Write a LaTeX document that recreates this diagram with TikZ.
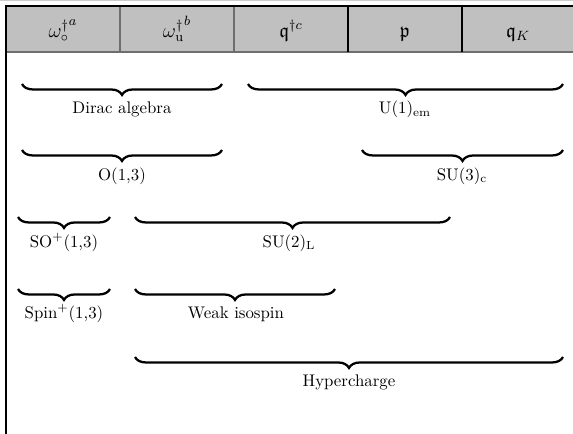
\documentclass[tikz,border=0pt]{standalone}
\usepackage{amssymb}
\usetikzlibrary{decorations.pathreplacing}
\definecolor{headfill}{RGB}{192,192,192}
\definecolor{sepgray}{RGB}{110,110,110}
\begin{document}
\begin{tikzpicture}[x=0.594pt,y=-0.594pt,
  br/.style={decorate,decoration={brace,mirror,amplitude=6.5pt},line width=1.35pt},
  lbl/.style={anchor=base,inner sep=0pt},
  hd/.style={anchor=base,inner sep=0pt,font=\large}]
\useasboundingbox (0,0) rectangle (573,434);
\fill[white] (0,0) rectangle (573,434);
% header
\fill[headfill] (6,6) rectangle (573,52);
\draw[black!20, line width=0.6pt] (0,0.8) -- (573,0.8);
\draw[sepgray, line width=0.6pt] (6,52) -- (573,52);
\draw[sepgray, line width=0.7pt] (120,6) -- (120,52);
\draw[sepgray, line width=0.7pt] (234,6) -- (234,52);
\draw[black, line width=0.9pt] (348,6) -- (348,52);
\draw[black, line width=0.9pt] (462,6) -- (462,52);
\draw[black, line width=1.3pt] (5.4,6) -- (573,6);
\draw[black, line width=1.3pt] (6,5.4) -- (6,434);
\node[hd] (h1) at (63,37) {${\omega^{\dagger}_{\circ}}^{a}$};
\node[hd] (h2) at (177,37) {${\omega^{\dagger}_{\mathrm{u}}}^{b}$};
\node[hd] (h3) at (291,37) {$\mathfrak{q}^{\dagger c}$};
\node[hd] (h4) at (405,37) {$\mathfrak{p}$};
\node[hd] (h5) at (518,37) {$\mathfrak{q}_{K}$};
% row 1
\coordinate (d1) at (22,84);  \coordinate (d2) at (222,84);
\coordinate (u1) at (248,84); \coordinate (u2) at (563,84);
\draw[br] (d1) -- (d2);
\draw[br] (u1) -- (u2);
\node[lbl] (dirac) at (122,113.5) {Dirac algebra};
\node[lbl] (u1em) at (405,113.5) {U(1)$_{\mathrm{em}}$};
% row 2
\coordinate (o1) at (22,150);  \coordinate (o2) at (222,150);
\coordinate (s31) at (362,150); \coordinate (s32) at (563,150);
\draw[br] (o1) -- (o2);
\draw[br] (s31) -- (s32);
\node[lbl] (o13) at (122,180) {O(1,3)};
\node[lbl] (su3) at (462,180) {SU(3)$_{\mathrm{c}}$};
% row 3
\coordinate (so1) at (18,217);  \coordinate (so2) at (110,217);
\coordinate (s21) at (135,217); \coordinate (s22) at (450,217);
\draw[br] (so1) -- (so2);
\draw[br] (s21) -- (s22);
\node[lbl] (so13) at (64,247) {SO$^{+}$(1,3)};
\node[lbl] (su2) at (289,247) {SU(2)$_{\mathrm{L}}$};
% row 4
\coordinate (sp1) at (18,289);  \coordinate (sp2) at (110,289);
\coordinate (w1) at (135,289); \coordinate (w2) at (335,289);
\draw[br] (sp1) -- (sp2);
\draw[br] (w1) -- (w2);
\node[lbl] (spin) at (64,318) {Spin$^{+}$(1,3)};
\node[lbl] (weak) at (236,318) {Weak isospin};
% row 5
\coordinate (y1) at (135,357); \coordinate (y2) at (563,357);
\draw[br] (y1) -- (y2);
\node[lbl] (hyper) at (349,386) {Hypercharge};
\end{tikzpicture}
\end{document}
